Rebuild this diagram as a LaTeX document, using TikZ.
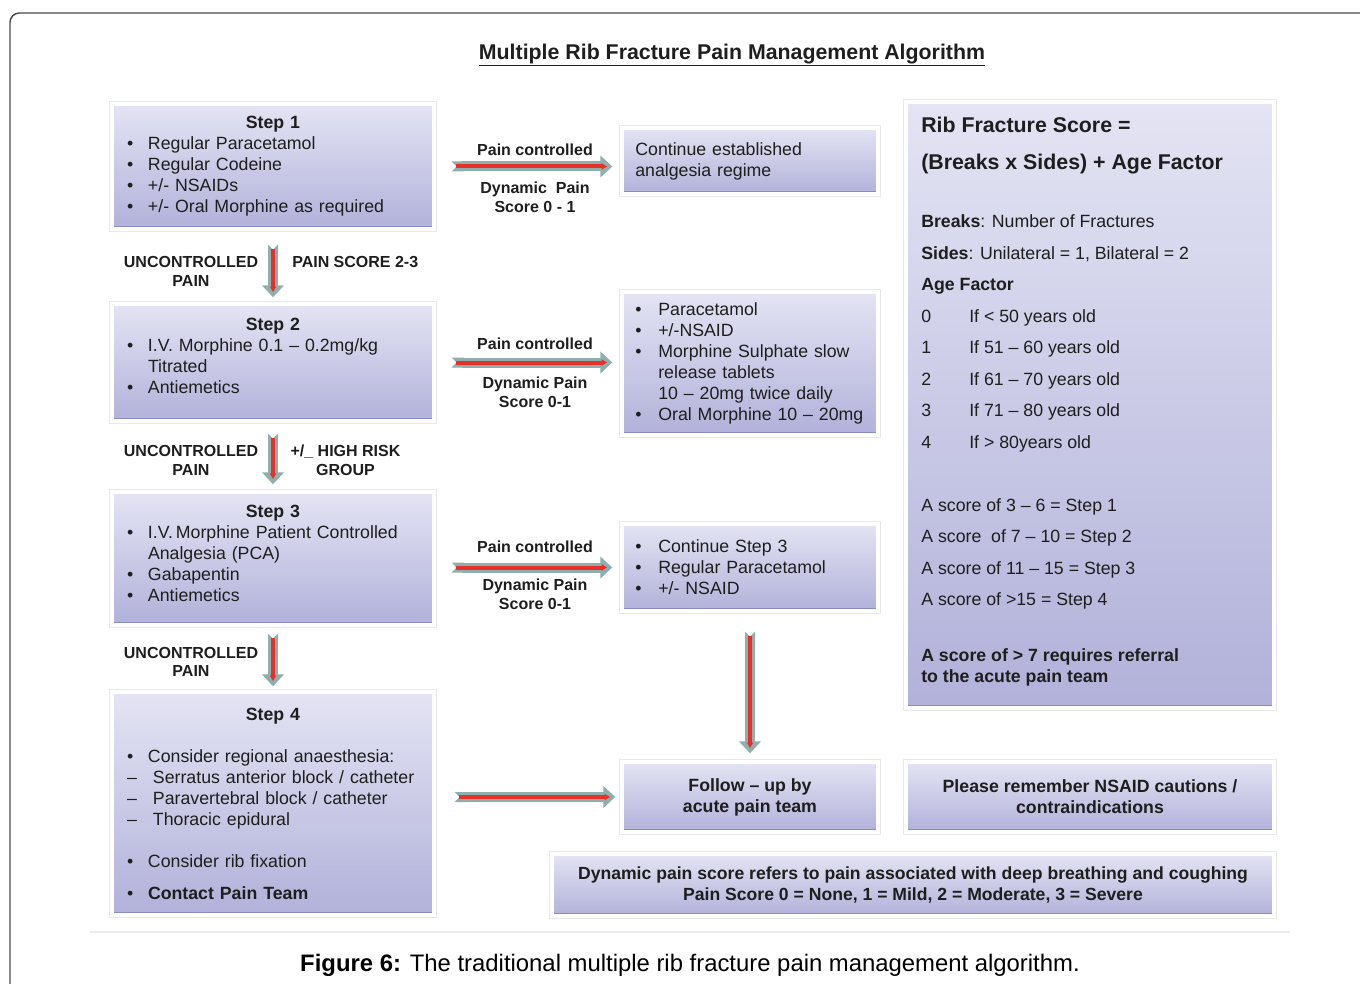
\documentclass[tikz,border=0pt]{standalone}
\usepackage{fontspec}
\setmainfont{Liberation Sans}
\usepackage{tikz}
\usetikzlibrary{arrows.meta,shadows,calc}

\definecolor{boxtop}{HTML}{E4E4F4}
\definecolor{boxbot}{HTML}{B1B1DA}
\definecolor{boxedge}{HTML}{8B8BC3}
\definecolor{arrteal}{HTML}{8EAFAE}
\definecolor{arrred}{HTML}{E5312A}
\definecolor{ink}{HTML}{1E1E1E}

\newcommand{\boxfont}{\fontsize{13.3}{15.75}\selectfont}
\newcommand{\lblfont}{\fontsize{12}{14}\selectfont\bfseries}
\newcommand{\bl}[1][15.75pt]{\makebox[#1][l]{\textbullet}}
\newcommand{\dl}{\makebox[19.5pt][l]{–}}

\tikzset{
  box/.style={rectangle, draw=white, line width=2.5pt, top color=boxtop, bottom color=boxbot,
    drop shadow={shadow xshift=2pt, shadow yshift=-2.5pt, opacity=.15},
    preaction={draw=black!9, line width=4.4pt},
    path picture={\fill[boxedge] (path picture bounding box.south west) rectangle
      ([yshift=2.2pt]path picture bounding box.south east);},
    text=ink, font=\boxfont, inner ysep=0pt},
  sz/.style 2 args={minimum width=#1*0.75pt, minimum height=#2*0.75pt},
  fat/.style={draw=arrteal, line width=7.5pt,
    arrows={{Triangle Cap[reversed]}-{Triangle[width=16pt,length=9pt]}},
    postaction={draw=arrred, line width=3pt, arrows={-{Triangle[width=4.5pt,length=4pt]}},
      shorten <=3.5pt, shorten >=4pt}},
  lbl/.style={font=\lblfont, text=ink, align=center, inner sep=0pt},
}

\begin{document}
\begin{tikzpicture}[x=0.75pt, y=-0.75pt]
  \useasboundingbox (0,0) rectangle (1360,984);
  \draw[ink!80, line width=1.1pt, rounded corners=7pt] (10,984) -- (10,13) -- (1360,13);
  \node[font=\fontsize{16}{19}\selectfont\bfseries, text=ink] (title) at (732,55)
    {\underline{Multiple Rib Fracture Pain Management Algorithm}};

  % left column: the four steps
  \node[box, sz={322}{125}, text width=219pt, inner xsep=11.25pt, align=left] (s1) at (273,166.5)
    {\makebox[\hsize]{\bfseries Step 1}\\ \bl Regular Paracetamol\\ \bl Regular Codeine\\
     \bl +/- NSAIDs\\ \bl +/- Oral Morphine as required};
  \node[box, sz={322}{117}, text width=219pt, inner xsep=11.25pt, align=left] (s2) at (273,362.5)
    {\makebox[\hsize]{\bfseries Step 2}\\ \bl I.V. Morphine 0.1 – 0.2mg/kg\\
     \hspace*{15.75pt}Titrated\\ \bl Antiemetics\\[-5.25pt]\mbox{}};
  \node[box, sz={322}{133}, text width=219pt, inner xsep=11.25pt, align=left] (s3) at (273,558.5)
    {\makebox[\hsize]{\bfseries Step 3}\\ \bl I.V.\,Morphine Patient Controlled\\
     \hspace*{15.75pt}Analgesia (PCA)\\ \bl Gabapentin\\ \bl Antiemetics\\[-8.25pt]\mbox{}};
  \node[box, sz={322}{223}, text width=219pt, inner xsep=11.25pt, align=left] (s4) at (273,803.5)
    {\makebox[\hsize]{\bfseries Step 4}\\[15.75pt]
     \bl Consider regional anaesthesia:\\ \dl Serratus anterior block / catheter\\
     \dl Paravertebral block / catheter\\ \dl Thoracic epidural\\[15.75pt]
     \bl Consider rib fixation\\[8.25pt] \bl\textbf{Contact Pain Team}};

  % middle column
  \node[box, sz={256}{66}, text width=172pt, inner xsep=10pt, align=left] (c1) at (750,161)
    {Continue established\\ analgesia regime};
  \node[box, sz={256}{143}, text width=172pt, inner xsep=10pt, align=left] (c2) at (750,363.5)
    {\bl[17.25pt]Paracetamol\\ \bl[17.25pt]+/-NSAID\\ \bl[17.25pt]Morphine Sulphate slow\\
     \hspace*{17.25pt}release tablets\\ \hspace*{17.25pt}10 – 20mg twice daily\\
     \bl[17.25pt]Oral Morphine 10 – 20mg};
  \node[box, sz={256}{87}, text width=172pt, inner xsep=10pt, align=left] (c3) at (750,567.5)
    {\bl[17.25pt]Continue Step 3\\ \bl[17.25pt]Regular Paracetamol\\ \bl[17.25pt]+/- NSAID};
  \node[box, sz={256}{70}, font=\boxfont\bfseries, align=center] (fu) at (750,797)
    {Follow – up by\\acute pain team};

  % right column
  \node[box, sz={368}{606}] (rs) at (1090,405) {};
  \node[anchor=north west, inner sep=0pt, text=ink, align=left,
    font=\fontsize{16}{27.75}\selectfont\bfseries] (rshead) at (921,117)
    {Rib Fracture Score =\\(Breaks x Sides) + Age Factor};
  \node[anchor=north west, inner sep=0pt, text=ink, align=left,
    font=\fontsize{13.3}{23.625}\selectfont] (rsbody) at (921,214.5)
    {\textbf{Breaks}: Number of Fractures\\ \textbf{Sides}: Unilateral = 1, Bilateral = 2\\
     \textbf{Age Factor}\\ \makebox[36pt][l]{0}If < 50 years old\\
     \makebox[36pt][l]{1}If 51 – 60 years old\\ \makebox[36pt][l]{2}If 61 – 70 years old\\
     \makebox[36pt][l]{3}If 71 – 80 years old\\ \makebox[36pt][l]{4}If > 80years old\\[23.625pt]
     A score of 3 – 6 = Step 1\\ A score~ of 7 – 10 = Step 2\\
     A score of 11 – 15 = Step 3\\ A score of >15 = Step 4};
  \node[anchor=north west, inner sep=0pt, text=ink, align=left,
    font=\boxfont\bfseries] (rsnote) at (921,648.5)
    {A score of > 7 requires referral\\to the acute pain team};
  \node[box, sz={368}{70}, font=\boxfont\bfseries, align=center] (ns) at (1090,797)
    {Please remember NSAID cautions /\\contraindications};
  \node[box, sz={722}{62}, font=\fontsize{13.2}{15.75}\selectfont\bfseries, align=center] (dp) at (913,885)
    {Dynamic pain score refers to pain associated with deep breathing and coughing\\
     Pain Score 0 = None, 1 = Mild, 2 = Moderate, 3 = Severe};

  % arrows
  \draw[fat] ($(s1.east)+(16,0)$) -- ($(s1.east -| c1.west)+(-8,0)$);
  \draw[fat] ($(s2.east)+(16,0)$) -- ($(s2.east -| c2.west)+(-8,0)$);
  \draw[fat] ($(s3.east |- c3.west)+(16,0)$) -- ($(c3.west)+(-8,0)$);
  \draw[fat] ($(s4.east |- fu.west)+(19,0)$) -- ($(fu.west)+(-5,0)$);
  \draw[fat] ($(s1.south)+(0,14)$) -- ($(s2.north)+(0,-5)$);
  \draw[fat] ($(s2.south)+(0,11)$) -- ($(s3.north)+(0,-6)$);
  \draw[fat] ($(s3.south)+(0,7)$) -- ($(s4.north)+(0,-4)$);
  \draw[fat] ($(c3.south)+(0,19)$) -- ($(fu.north)+(0,-7)$);

  % arrow labels
  \node[lbl] (pc1) at (535,150) {Pain controlled};
  \node[lbl] (dy1) at (535,197.5) {Dynamic~ Pain\\Score 0 - 1};
  \node[lbl] (pc2) at (535,344) {Pain controlled};
  \node[lbl] (dy2) at (535,392) {Dynamic Pain\\Score 0-1};
  \node[lbl] (pc3) at (535,547) {Pain controlled};
  \node[lbl] (dy3) at (535,594.5) {Dynamic Pain\\Score 0-1};
  \node[lbl] (un1) at (191,271.5) {UNCONTROLLED\\PAIN};
  \node[lbl, anchor=west] (ps) at (292,262) {PAIN SCORE 2-3};
  \node[lbl] (un2) at (191,460.5) {UNCONTROLLED\\PAIN};
  \node[lbl] (hr) at (345.5,460.5) {+/\_ HIGH RISK\\GROUP};
  \node[lbl] (un3) at (191,662) {UNCONTROLLED\\PAIN};

  % caption
  \draw[black!8, line width=0.8pt] (90,932) -- (1290,932);
  \node[font=\fontsize{17.9}{20}\selectfont, text=black] (cap) at (690,965)
    {\textbf{Figure 6:} The traditional multiple rib fracture pain management algorithm.};
\end{tikzpicture}
\end{document}
